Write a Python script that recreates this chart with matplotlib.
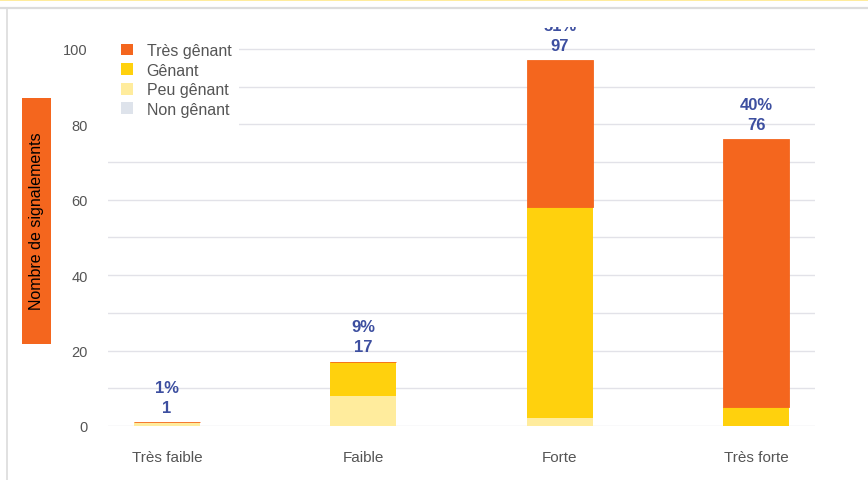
import matplotlib
matplotlib.use("Agg")
import matplotlib.pyplot as plt
from matplotlib.patches import Rectangle, Patch
from matplotlib.lines import Line2D
import numpy as np

plt.rcParams['font.family'] = ['Liberation Sans', 'DejaVu Sans']

# ---- données ----
categories = ['Très faible', 'Faible', 'Forte', 'Très forte']
non_genant = [0, 0, 0, 0]
peu_genant = [1, 8, 2, 0]
genant = [0, 9, 56, 5]
tres_genant = [0, 0, 39, 71]
pourcentages = ['1%', '9%', '51%', '40%']

series = ['Très gênant', 'Gênant', 'Peu gênant', 'Non gênant']
couleurs = {'Très gênant': '#F4661E', 'Gênant': '#FFD10D',
            'Peu gênant': '#FFEC9D', 'Non gênant': '#DEE3EB'}
bleu = '#3D4FA0'
gris = '#555555'

W, H = 868, 481
fig = plt.figure(figsize=(W / 100, H / 100), dpi=100)
ax = fig.add_axes([108 / W, 1 - 427 / H, (815 - 108) / W, (427 - 28) / H])

x = np.arange(len(categories))
largeur = 0.335

# empilement du bas vers le haut
bas = np.zeros(len(categories))
for nom, vals in [('Non gênant', non_genant), ('Peu gênant', peu_genant),
                  ('Gênant', genant)]:
    ax.bar(x, vals, largeur, bottom=bas, color=couleurs[nom], linewidth=0, zorder=2)
    bas += np.array(vals)
ax.bar(x, tres_genant, largeur, bottom=bas, color=couleurs['Très gênant'],
       edgecolor=couleurs['Très gênant'], linewidth=0.6, zorder=2)
totaux = bas + np.array(tres_genant)

# étiquettes au-dessus des barres
for xi, tot, pct in zip(x, totaux, pourcentages):
    ax.annotate(f'{int(tot)}', (xi, tot), xytext=(0, 15), textcoords='offset pixels',
                ha='center', va='center', fontsize=12, fontweight='bold', color=bleu,
                annotation_clip=False, clip_on=True, zorder=4)
    ax.annotate(pct, (xi, tot), xytext=(0, 35), textcoords='offset pixels',
                ha='center', va='center', fontsize=12, fontweight='bold', color=bleu,
                annotation_clip=False, clip_on=True, zorder=4)

ax.set_xlim(-0.3, 3.3)
ax.set_ylim(0, 105.8)
ax.set_yticks(np.arange(0, 101, 20))
ax.set_yticks(np.arange(0, 101, 10), minor=True)
ax.set_xticks(x)
ax.set_xticklabels(categories)
ax.tick_params(axis='x', length=0, pad=17, labelsize=11, labelcolor=gris)
ax.tick_params(axis='y', which='both', length=0, pad=14.5, labelsize=10.5, labelcolor=gris)
ax.grid(axis='y', which='both', color='#E2E2E8', linewidth=1)
ax.set_axisbelow(True)
for s in ax.spines.values():
    s.set_visible(False)

# fond blanc de la légende (masque les lignes de grille)
ax.add_patch(Rectangle((0, (427 - 130) / (427 - 28)), (239 - 108) / (815 - 108),
                       (130 - 35) / (427 - 28), transform=ax.transAxes,
                       facecolor='white', edgecolor='none', zorder=1))
poignees = [Patch(facecolor=couleurs[s], edgecolor='none') for s in series]
leg = ax.legend(poignees, series, loc='upper left',
                bbox_to_anchor=(121 / W, 1 - 44 / H), bbox_transform=fig.transFigure,
                frameon=False, fontsize=11.5, handlelength=0.75, handleheight=0.75,
                handletextpad=0.85, labelspacing=0.29, borderpad=0, borderaxespad=0)
for t in leg.get_texts():
    t.set_color(gris)

# titre de l'axe y dans un encadré orange
fig.add_artist(Rectangle((22 / W, 1 - 345 / H), 29 / W, 246 / H,
                         transform=fig.transFigure, facecolor='#F4661E', edgecolor='none'))
fig.text(36.5 / W, 1 - 221 / H, 'Nombre de signalements', rotation=90,
         ha='center', va='center', fontsize=11.5, color='black')

# bordures du cadre
fig.add_artist(Line2D([0, 1], [1 - 0.8 / H, 1 - 0.8 / H], transform=fig.transFigure,
                      color='#FFE98A', linewidth=1.2))
fig.add_artist(Line2D([0, 1], [1 - 8.5 / H, 1 - 8.5 / H], transform=fig.transFigure,
                      color='#DCDCDC', linewidth=1.6))
fig.add_artist(Line2D([6.5 / W, 6.5 / W], [0, 1 - 8.5 / H], transform=fig.transFigure,
                      color='#DCDCDC', linewidth=1.2))

fig.savefig('out.png', dpi=100)
